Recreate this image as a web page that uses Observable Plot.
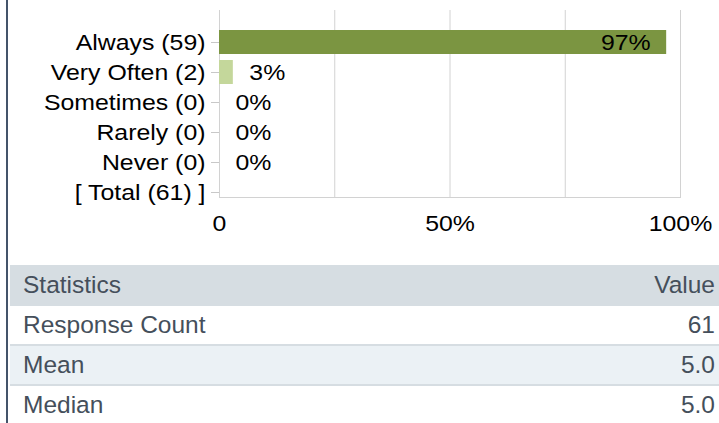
<!DOCTYPE html>
<html><head><meta charset="utf-8">
<script src="https://cdn.jsdelivr.net/npm/d3@7"></script>
<script src="https://cdn.jsdelivr.net/npm/@observablehq/plot@0.6"></script>
<style>
html,body{margin:0;padding:0;background:#fff;}
body{width:719px;height:423px;position:relative;overflow:hidden;}
#chart{position:absolute;left:0;top:0;}
#leftbar{position:absolute;left:6px;top:0;width:2px;height:423px;background:#44546a;}
#stats{position:absolute;left:10px;top:265px;width:709px;font-family:"Liberation Sans",Arial,sans-serif;font-size:24.5px;color:#454f5b;}
#stats .row{display:flex;justify-content:space-between;align-items:center;height:38px;border-top:2px solid #d6dde2;padding:0 4px 0 13px;box-sizing:content-box;}
#stats .head{background:#d6dde2;height:39px;border-top:none;}
#stats .alt{background:#ebf1f5;}
</style>
</head><body>
<div id="chart"></div>
<div id="stats"></div>
<div id="leftbar"></div>
<script>
const categories = ["Always (59)", "Very Often (2)", "Sometimes (0)", "Rarely (0)", "Never (0)", "[ Total (61) ]"];
const percents = [97, 3, 0, 0, 0];
const barColors = ["#7b9541", "#c4d79b", "#c4d79b", "#c4d79b", "#c4d79b"];
const xTicks = [0, 50, 100];
const xTickLabels = ["0", "50%", "100%"];
const gridValues = [0, 25, 50, 75, 100];

const statHeader = ["Statistics", "Value"];
const statNames = ["Response Count", "Mean", "Median"];
const statValues = ["61", "5.0", "5.0"];

const rows = percents.map((p, i) => ({cat: categories[i], pct: p, color: barColors[i], label: p + "%"}));

const chart = Plot.plot({
  width: 719, height: 250,
  marginTop: 10, marginBottom: 53, marginLeft: 219, marginRight: 39,
  style: {fontFamily: "'Liberation Sans', Arial, sans-serif", fontSize: "22px", color: "#000", background: "transparent"},
  x: {domain: [0, 100]},
  y: {domain: categories, range: [21.5, 211.9], padding: 0.2},
  color: {type: "identity"},
  marks: [
    Plot.ruleX(gridValues, {stroke: "#d2d2d2"}),
    Plot.frame({anchor: "bottom", stroke: "#d2d2d2"}),
    Plot.barX(rows, {y: "cat", x: "pct", fill: "color"}),
    Plot.text(rows.filter(d => d.pct > 50), {y: "cat", x: "pct", text: "label", textAnchor: "end", dx: -16, fill: "#000"}),
    Plot.text(rows.filter(d => d.pct <= 50), {y: "cat", x: "pct", text: "label", textAnchor: "start", dx: 16, fill: "#000"}),
    Plot.axisX({ticks: xTicks, tickFormat: d => xTickLabels[xTicks.indexOf(d)], tickSize: 0, tickPadding: 18, label: null, fill: "#000"}),
    Plot.axisY({tickSize: 8, tickPadding: 6, label: null, stroke: "#c8c8c8", fill: "#000"})
  ]
});

chart.querySelectorAll("text").forEach(t => {
  const tr = t.getAttribute("transform") || "";
  const x = +(t.getAttribute("x") || 0);
  t.setAttribute("transform", `${tr} translate(${x},0) scale(1.13,1) translate(${-x},0)`);
});
document.getElementById("chart").appendChild(chart);

const stats = document.getElementById("stats");
const mk = (cls, a, b) => {
  const r = document.createElement("div");
  r.className = "row " + cls;
  const s1 = document.createElement("span"); s1.textContent = a;
  const s2 = document.createElement("span"); s2.textContent = b;
  r.append(s1, s2);
  stats.appendChild(r);
};
mk("head", statHeader[0], statHeader[1]);
statNames.forEach((n, i) => mk(i === 1 ? "alt" : "", n, statValues[i]));
</script>
</body></html>
